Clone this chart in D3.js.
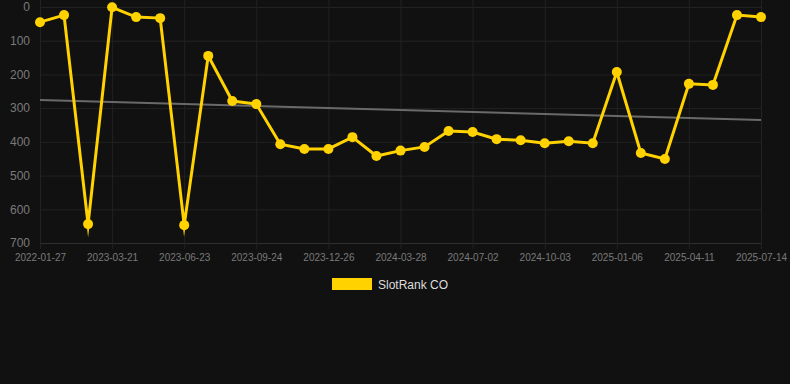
<!DOCTYPE html>
<html>
<head>
<meta charset="utf-8">
<script src="https://cdn.jsdelivr.net/npm/d3@7/dist/d3.min.js"></script>
<style>
  html, body { margin: 0; padding: 0; background: #111111; }
  svg { display: block; font-family: "Liberation Sans", Arial, sans-serif; }
</style>
</head>
<body>
<div id="chart"></div>
<script>
// dates (category axis), every third one gets a label
const dates = [
  "2022-01-27", "2022-06-10", "2022-11-02",
  "2023-03-21", "2023-04-21", "2023-05-22",
  "2023-06-23", "2023-07-24", "2023-08-24",
  "2023-09-24", "2023-10-25", "2023-11-25",
  "2023-12-26", "2024-01-26", "2024-02-26",
  "2024-03-28", "2024-04-29", "2024-05-31",
  "2024-07-02", "2024-08-02", "2024-09-02",
  "2024-10-03", "2024-11-03", "2024-12-05",
  "2025-01-06", "2025-02-06", "2025-03-10",
  "2025-04-11", "2025-05-12", "2025-06-12",
  "2025-07-14"
];
const ranks = [
  45, 24, 644, 1, 30, 33, 647, 145, 279, 288,
  407, 421, 421, 386, 442, 426, 415, 368, 371, 392,
  395, 404, 398, 404, 193, 433, 451, 228, 231, 24,
  30
];
const trendValues = [276, 335];
const yTicks = [0, 100, 200, 300, 400, 500, 600, 700];
const seriesName = "SlotRank CO";

const W = 790, H = 384;
const plotLeft = 40, plotRight = 761, plotTop = 7, plotBottom = 243;
const yellow = "#ffd200";

const svg = d3.select("#chart").append("svg")
  .attr("width", W).attr("height", H);

svg.append("rect").attr("width", W).attr("height", H).attr("fill", "#111111");

const x = d3.scalePoint().domain(dates).range([plotLeft, plotRight]);
const y = d3.scaleLinear().domain([0, 700]).range([plotTop, plotBottom]);

const labelled = dates.filter((d, i) => i % 3 === 0);

// grid
svg.append("g").selectAll("line").data(yTicks).join("line")
  .attr("x1", plotLeft).attr("x2", plotRight)
  .attr("y1", d => y(d) + 0.5).attr("y2", d => y(d) + 0.5)
  .attr("stroke", d => d === 700 ? "#2e2e2e" : "#222222").attr("stroke-width", 1);

svg.append("g").selectAll("line").data(labelled).join("line")
  .attr("x1", d => x(d) + 0.5).attr("x2", d => x(d) + 0.5)
  .attr("y1", plotTop - 7).attr("y2", plotBottom + 6)
  .attr("stroke", "#222222").attr("stroke-width", 1);

// y axis labels
const yAxis = d3.axisLeft(y).tickValues(yTicks).tickSize(0).tickPadding(0);
const gy = svg.append("g").attr("transform", `translate(30,0)`).call(yAxis);
gy.select(".domain").remove();
gy.selectAll("text").attr("fill", "#7a7a7a").attr("font-size", 12)
  .attr("font-family", "Liberation Sans, Arial, sans-serif");

// x axis labels
const xAxis = d3.axisBottom(x).tickValues(labelled).tickSize(0).tickPadding(0);
const gx = svg.append("g").attr("transform", `translate(0,254)`).call(xAxis);
gx.select(".domain").remove();
gx.selectAll("text").attr("fill", "#7a7a7a").attr("font-size", 10)
  .attr("font-family", "Liberation Sans, Arial, sans-serif");

// trend line
svg.append("line")
  .attr("x1", x(dates[0])).attr("x2", x(dates[dates.length - 1]))
  .attr("y1", y(trendValues[0])).attr("y2", y(trendValues[1]))
  .attr("stroke", "#6a6a6a").attr("stroke-width", 2);

// series line (canvas-like miter joins give the little spikes)
const line = d3.line().x((d, i) => x(dates[i])).y(d => y(d));
svg.append("path").datum(ranks)
  .attr("d", line)
  .attr("fill", "none").attr("stroke", yellow).attr("stroke-width", 3)
  .attr("stroke-linejoin", "miter").attr("stroke-miterlimit", 10);

svg.append("g").selectAll("circle").data(ranks).join("circle")
  .attr("cx", (d, i) => x(dates[i])).attr("cy", d => y(d))
  .attr("r", 5).attr("fill", yellow);

// legend
svg.append("rect").attr("x", 332).attr("y", 278).attr("width", 40).attr("height", 12)
  .attr("fill", yellow);
svg.append("text").attr("x", 378).attr("y", 288.5)
  .attr("fill", "#dddddd").attr("font-size", 12).text(seriesName);
</script>
</body>
</html>
